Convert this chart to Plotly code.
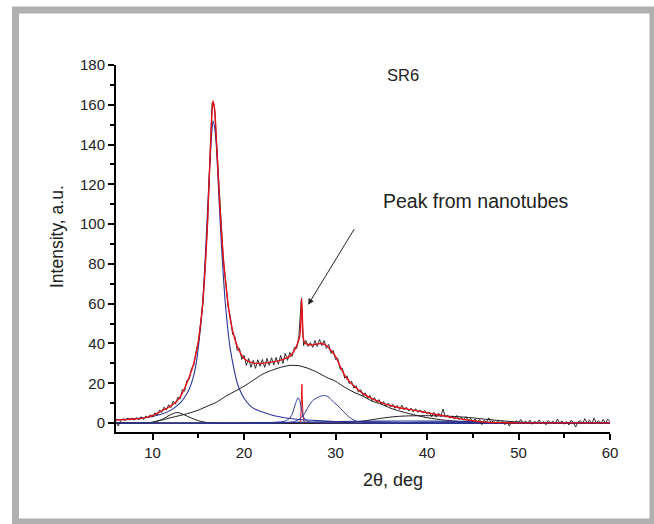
import numpy as np
import plotly.graph_objects as go

# ---------------- data ----------------
# measured pattern, 0.25 deg step from 6 to 60 (4 values per degree)
meas_start, meas_step = 6.0, 0.25
meas_intensity = [
    0.5, -1.5, 1.0, 2.2,      # 6
    1.2, 2.4, 1.6, 2.5,       # 7
    1.4, 2.8, 1.5, 3.2,       # 8
    1.8, 3.5, 2.6, 4.2,       # 9
    3.0, 5.2, 4.0, 6.5,       # 10
    5.4, 8.0, 6.5, 9.2,       # 11
    7.8, 11.0, 9.5, 13.0,     # 12
    12.0, 16.8, 16.0, 21.5,   # 13
    22.0, 27.5, 29.0, 36.0,   # 14
    40.5, 51.0, 60.0, 79.0,   # 15
    99.0, 131.0, 161.0, 160.0,  # 16
    141.0, 117.0, 99.0, 81.0,  # 17
    71.0, 58.5, 53.5, 44.5,   # 18
    43.5, 36.5, 37.5, 32.0,   # 19
    34.0, 29.0, 32.5, 28.0,   # 20
    31.5, 27.5, 31.8, 28.5,   # 21
    32.0, 28.0, 32.5, 29.0,   # 22
    32.8, 29.2, 33.0, 29.5,   # 23
    34.0, 30.0, 35.0, 31.5,   # 24
    35.5, 33.5, 38.0, 37.5,   # 25
    44.0, 62.0, 39.0, 41.5,   # 26
    38.5, 40.5, 38.0, 41.5,   # 27
    38.5, 42.0, 39.0, 41.5,   # 28
    37.5, 39.5, 35.0, 36.5,   # 29
    32.0, 32.5, 27.0, 27.5,   # 30
    22.5, 23.8, 19.8, 21.0,   # 31
    17.5, 18.8, 15.5, 16.8,   # 32
    13.8, 15.2, 12.2, 14.0,   # 33
    11.2, 12.8, 10.5, 11.8,   # 34
    9.5, 10.8, 8.6, 10.0,     # 35
    8.0, 9.4, 7.4, 8.8,       # 36
    6.8, 9.0, 6.6, 8.0,       # 37
    6.0, 7.5, 5.6, 7.2,       # 38
    5.3, 6.6, 5.0, 6.3,       # 39
    4.5, 5.6, 3.2, 5.4,       # 40
    3.0, 5.0, 3.3, 7.0,       # 41
    3.0, 4.0, 2.5, 3.6,       # 42
    2.0, 3.8, 1.8, 3.0,       # 43
    1.5, 3.2, 1.2, 2.4,       # 44
    0.8, 2.0, 0.6, 1.8,       # 45
    -0.8, 1.5, 0.3, 2.6,      # 46
    0.2, 1.2, -0.3, 1.4,      # 47
    0.0, 1.0, -0.8, 0.6,      # 48
    -1.5, 0.8, -0.5, 1.2,     # 49
    0.2, 1.8, -0.4, 1.0,      # 50
    0.0, 1.5, -0.6, 0.9,      # 51
    0.1, 1.6, -0.3, 0.8,      # 52
    -0.9, 1.3, 0.0, 1.0,      # 53
    -0.5, 2.0, 0.0, 1.1,      # 54
    -0.6, 0.8, -1.0, 1.5,     # 55
    0.2, -2.0, 0.5, 1.3,      # 56
    -0.4, 2.2, 0.0, 1.6,      # 57
    -0.5, 2.4, 0.2, 1.2,      # 58
    -0.3, 1.8, 0.0, 2.0,      # 59
    0.6,                      # 60
]

# cumulative fit (red)
fit_x = [6, 7, 8, 9, 9.5, 10, 10.5, 11, 11.5, 12, 12.5, 13, 13.5, 14, 14.5,
         15, 15.25, 15.5, 15.75, 16, 16.25, 16.45, 16.6, 16.8, 17, 17.25, 17.5,
         17.75, 18, 18.5, 19, 19.5, 20, 20.5, 21, 22, 23, 24, 24.5, 25, 25.5,
         26, 26.15, 26.3, 26.45, 26.6, 27, 27.5, 28, 28.5, 29, 29.5, 30, 30.5,
         31, 31.5, 32, 33, 34, 35, 36, 37, 38, 39, 40, 41, 42, 43, 44, 45, 46,
         47, 48, 50, 55, 60]
fit_y = [1.5, 1.7, 2.0, 2.5, 3.0, 3.8, 4.9, 6.1, 7.3, 8.6, 10.3, 13, 17.5, 23, 30,
         41, 50, 61, 78, 100, 130, 152, 162, 157, 140, 118, 98,
         82, 70, 52, 42, 36, 32.5, 31, 30.2, 30, 30.6, 31.6, 32.5, 33.5, 36.5,
         42, 46, 63, 44, 40.5, 39.5, 39.3, 39.8, 40, 39, 36.5, 33.5, 28.5,
         24, 21, 18.7, 14.8, 12.3, 10.3, 8.8, 7.7, 6.9, 6.1, 5.2, 4.3, 3.5, 2.6, 1.8, 1.2, 0.6,
         0.3, 0.2, 0.1, 0.1, 0.1]

# blue components
main_peak_x = [6, 7, 8, 9, 10, 11, 12, 12.6, 13, 13.5, 14, 14.5, 14.8, 15.1, 15.4,
               15.7, 15.9, 16.2, 16.45, 16.6, 16.8, 17.0, 17.2, 17.4, 17.65, 17.9,
               18.2, 18.5, 18.9, 19.2, 19.5, 20, 20.6, 21, 22, 23, 24, 25, 26, 28,
               30, 35, 40, 45, 50, 60]
main_peak_y = [1.6, 1.9, 2.2, 2.7, 3.3, 4.5, 6.5, 8.5, 10, 13, 17, 24, 31, 42, 56,
               78, 97, 125, 145, 152, 148, 137, 118, 100, 80, 63,
               48, 37, 27, 21, 17, 12.5, 9, 7.5, 5.5, 4, 3, 2.3, 1.8, 1.2,
               0.8, 0.4, 0.2, 0.1, 0, 0]
peak26_x = [6, 23, 24, 24.5, 25, 25.3, 25.6, 25.9, 26.1, 26.3, 26.5, 26.8, 27.3, 28, 60]
peak26_y = [0, 0.3, 0.6, 1.0, 2.5, 5, 9.5, 12.7, 11, 6.5, 3, 1.2, 0.4, 0.1, 0]
peak29_x = [6, 24, 25, 25.5, 26, 26.5, 27, 27.5, 28, 28.5, 28.9, 29.3, 29.8, 30.3,
            30.8, 31.3, 31.8, 32.3, 33, 34, 35, 60]
peak29_y = [0, 0, 0.3, 0.8, 1.8, 4.0, 8.0, 11.3, 12.8, 13.7, 13.8, 12.8, 10.5, 8.5,
            6.0, 3.8, 2.0, 0.9, 0.3, 0.1, 0, 0]
broad_blue_x = [20, 25, 30, 35, 40, 45, 46.5, 48]
broad_blue_y = [0, 0.3, 0.7, 1.0, 1.0, 0.8, 0.3, 0]

# black components
small_peak_x = [6, 9, 10, 11, 12, 12.6, 13, 14, 15, 16, 17, 60]
small_peak_y = [0, 0, 0.3, 1.8, 4.3, 5.3, 5, 3, 1.2, 0.2, 0, 0]
amorph_x = [6, 9, 10, 11, 12, 13, 14, 15, 16, 17, 18, 19, 20, 21, 22, 23, 24, 25,
            26, 27, 28, 29, 30, 31, 32, 33, 34, 35, 36, 37, 38, 39, 40, 41, 42,
            43, 44, 46, 48, 52, 60]
amorph_y = [0, 0, 0.5, 1.5, 2.7, 3.8, 5, 6.5, 8.5, 10.5, 13.5, 16, 18.5, 21.5,
            24.5, 26.5, 28, 29, 28.8, 27.5, 25.5, 23, 21, 18, 15.5, 13.5, 11,
            9.5, 7.5, 6, 4.8, 3.7, 2.7, 2, 1.4, 1, 0.6, 0.3, 0.1, 0, 0]
broad40_x = [6, 30, 31, 32, 33, 34, 35, 36, 37, 38, 40, 42, 44, 45, 46, 48, 50, 52, 55, 60]
broad40_y = [0, 0, 0.2, 0.5, 1.0, 1.7, 2.4, 3.0, 3.4, 3.6, 3.7, 3.5, 3.0, 2.6, 2.1,
             1.2, 0.5, 0.2, 0, 0]

# narrow nanotube component (red)
tube_x = [6, 26.1, 26.2, 26.27, 26.32, 26.37, 26.45, 26.6, 60]
tube_y = [0, 0, 3, 12, 19.5, 12, 3, 0, 0]

# ---------------- layout constants ----------------
W, H = 654, 524
L, R, T, B = 116, 44, 65, 92
X_RANGE = [6, 60]
Y_RANGE = [-4.5, 180]
PW, PH = W - L - R, H - T - B


def paper_x(px):
    return (px - L) / PW


def paper_y(py):
    return (H - B - py) / PH


BLACK = "#1a1a1a"
BLUE = "#2a3596"
RED = "#e3121b"
FONT = "Liberation Sans, Arial, sans-serif"

meas_x = meas_start + meas_step * np.arange(len(meas_intensity))

fig = go.Figure()


def line(x, y, color, width, shape="spline", smooth=0.6):
    fig.add_trace(go.Scatter(x=x, y=y, mode="lines",
                             line=dict(color=color, width=width, shape=shape,
                                       smoothing=smooth if shape == "spline" else None),
                             hoverinfo="skip", showlegend=False))


line(tube_x, tube_y, RED, 1.0, shape="linear")
line(amorph_x, amorph_y, BLACK, 1.0)
line(small_peak_x, small_peak_y, BLACK, 1.0)
line(broad40_x, broad40_y, BLACK, 1.0)
line(broad_blue_x, broad_blue_y, BLUE, 1.2)
line(peak29_x, peak29_y, BLUE, 1.0)
line(peak26_x, peak26_y, BLUE, 1.0)
line(main_peak_x, main_peak_y, BLUE, 1.1)
line(meas_x, meas_intensity, BLACK, 0.9, shape="linear")
line(fit_x, fit_y, RED, 1.4, smooth=0.5)

axis_common = dict(showline=True, linecolor="black", linewidth=2, ticks="outside",
                   ticklen=6, tickwidth=2, tickcolor="black", showgrid=False,
                   zeroline=False, tickfont=dict(family=FONT, size=15, color="#222"))

fig.update_xaxes(range=X_RANGE, tick0=0, dtick=10,
                 minor=dict(ticks="outside", dtick=5, ticklen=4, tickwidth=2, tickcolor="black"),
                 **axis_common)
fig.update_yaxes(range=Y_RANGE, tick0=0, dtick=20,
                 minor=dict(ticks="outside", dtick=10, ticklen=4, tickwidth=2, tickcolor="black"),
                 **axis_common)

# grey frame around the figure
fig.add_shape(type="rect", xref="paper", yref="paper",
              x0=paper_x(15.5), x1=paper_x(653), y0=paper_y(522), y1=paper_y(10),
              line=dict(color="#b0b0b0", width=7), fillcolor="rgba(0,0,0,0)", layer="below")

txt = dict(family=FONT, color="#222")
annotations = [
    dict(text="SR6", x=paper_x(403), y=paper_y(75), font=dict(size=16.5, **txt)),
    dict(text="Peak from nanotubes", x=paper_x(476), y=paper_y(201), font=dict(size=19.5, **txt)),
    dict(text="Intensity, a.u.", x=paper_x(57), y=paper_y(237), textangle=-90,
         font=dict(size=17.5, **txt)),
    dict(text="2θ, deg", x=paper_x(393), y=paper_y(480), font=dict(size=18, **txt)),
]
for a in annotations:
    fig.add_annotation(xref="paper", yref="paper", showarrow=False,
                       xanchor="center", yanchor="middle", **a)

# arrow pointing at the nanotube peak
ARROW_HEAD = (27.0, 59.5)
fig.add_annotation(x=ARROW_HEAD[0], y=ARROW_HEAD[1], xref="x", yref="y", text="",
                   showarrow=True, ax=47, ay=-77, arrowhead=2, arrowsize=1.2,
                   arrowwidth=1, arrowcolor="#222")

fig.update_layout(width=W, height=H, margin=dict(l=L, r=R, t=T, b=B),
                  paper_bgcolor="white", plot_bgcolor="white", showlegend=False,
                  hovermode=False)

fig.write_html("out.html")
